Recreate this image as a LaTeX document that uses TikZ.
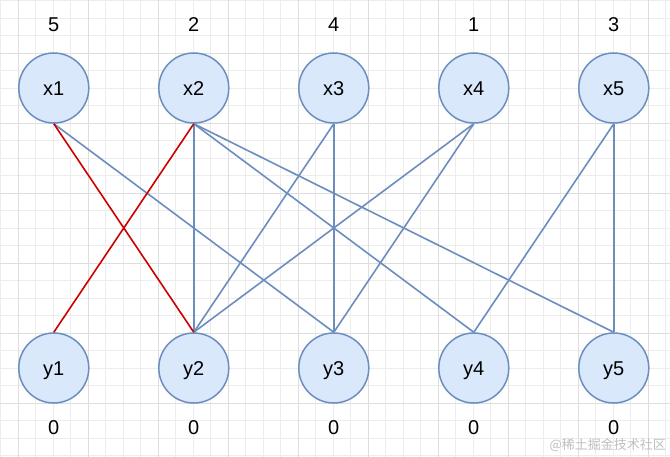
\documentclass[tikz,border=0pt]{standalone}
\usepackage{fontspec}
\setmainfont{Liberation Sans}
\newfontfamily\cjkfont{Noto Sans CJK SC}
\definecolor{nodefill}{HTML}{DAE8FC}
\definecolor{nodeline}{HTML}{6C8EBF}
\definecolor{redline}{HTML}{CC0000}
\definecolor{gridminor}{HTML}{EDEDED}
\definecolor{gridmajor}{HTML}{DEDEDE}
\tikzset{
  vnode/.style={circle, draw=nodeline, fill=nodefill, line width=1.5pt, minimum size=70pt, inner sep=0pt, text height=14.3pt, text depth=0pt, font=\fontsize{20}{24}\selectfont},
  numlabel/.style={font=\fontsize{20}{24}\selectfont, inner sep=0pt, text height=14.3pt, text depth=0pt},
  edgeb/.style={draw=nodeline, line width=1.6pt},
  edger/.style={draw=redline, line width=1.6pt},
}
\begin{document}
\begin{tikzpicture}[x=1pt,y=-1pt]
\useasboundingbox (0,0) rectangle (670,457);
\fill[white] (0,0) rectangle (670,457);
\foreach \k in {-1,...,37} {
  \pgfmathsetmacro{\p}{18.3+17.5*\k}
  \draw[gridminor, line width=0.8pt] (\p,0) -- (\p,457);
  \draw[gridminor, line width=0.8pt] (0,\p) -- (670,\p);
}
\foreach \k in {0,4,...,36} {
  \pgfmathsetmacro{\p}{18.3+17.5*\k}
  \draw[gridmajor, line width=0.8pt] (\p,0) -- (\p,457);
}
\foreach \k in {-2,2,...,26} {
  \pgfmathsetmacro{\p}{18.3+17.5*\k}
  \draw[gridmajor, line width=0.8pt] (0,\p) -- (670,\p);
}
% top nodes
\node[vnode] (x1) at (53.8,88) {x1};
\node[vnode] (x2) at (193.8,88) {x2};
\node[vnode] (x3) at (333.8,88) {x3};
\node[vnode] (x4) at (473.8,88) {x4};
\node[vnode] (x5) at (613.8,88) {x5};
% bottom nodes
\node[vnode] (y1) at (53.8,368) {y1};
\node[vnode] (y2) at (193.8,368) {y2};
\node[vnode] (y3) at (333.8,368) {y3};
\node[vnode] (y4) at (473.8,368) {y4};
\node[vnode] (y5) at (613.8,368) {y5};
% labels
\node[numlabel] (l1) at (53.8,24.5) {5};
\node[numlabel] (l2) at (193.8,24.5) {2};
\node[numlabel] (l3) at (333.8,24.5) {4};
\node[numlabel] (l4) at (473.8,24.5) {1};
\node[numlabel] (l5) at (613.8,24.5) {3};
\node[numlabel] (m1) at (53.8,427) {0};
\node[numlabel] (m2) at (193.8,427) {0};
\node[numlabel] (m3) at (333.8,427) {0};
\node[numlabel] (m4) at (473.8,427) {0};
\node[numlabel] (m5) at (613.8,427) {0};
% edges
\draw[edgeb] (x1.south) -- (y3.north);
\draw[edgeb] (x2.south) -- (y2.north);
\draw[edgeb] (x2.south) -- (y4.north);
\draw[edgeb] (x2.south) -- (y5.north);
\draw[edgeb] (x3.south) -- (y2.north);
\draw[edgeb] (x3.south) -- (y3.north);
\draw[edgeb] (x4.south) -- (y2.north);
\draw[edgeb] (x4.south) -- (y3.north);
\draw[edgeb] (x5.south) -- (y4.north);
\draw[edgeb] (x5.south) -- (y5.north);
\draw[edger] (x1.south) -- (y2.north);
\draw[edger] (x2.south) -- (y1.north);
% watermark
\node[anchor=east, inner sep=0pt, text=black!25, font=\cjkfont\fontsize{13}{15}\selectfont] (wm) at (666,445) {@稀土掘金技术社区};
\end{tikzpicture}
\end{document}
